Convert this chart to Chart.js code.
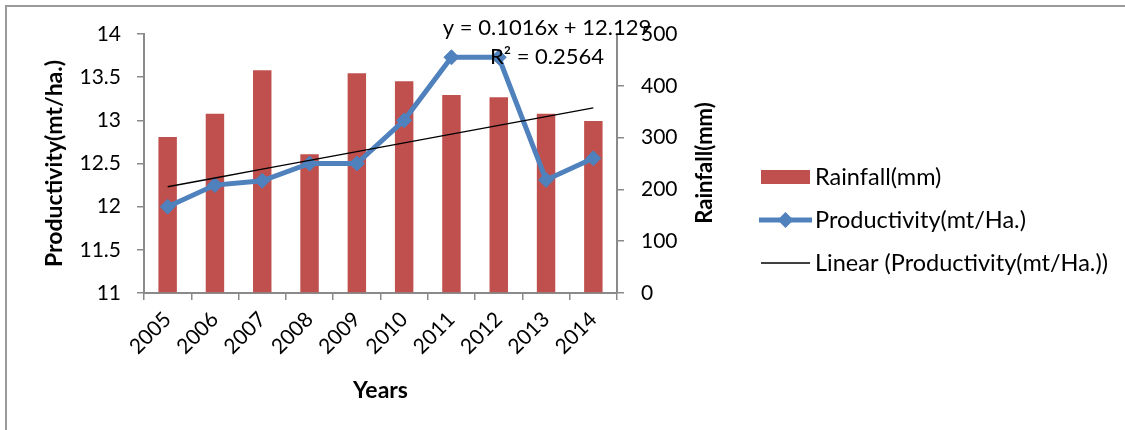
<!DOCTYPE html>
<html>
<head>
<meta charset="utf-8">
<title>Rainfall and productivity</title>
<script src="https://cdn.jsdelivr.net/npm/chart.js@4.4.1/dist/chart.umd.min.js"></script>
<style>
  html, body { margin: 0; padding: 0; background: #fff; }
  #wrap { position: relative; width: 1125px; height: 430px; overflow: hidden; }
  #frame { position: absolute; left: 5px; top: 5px; width: 1300px; height: 600px;
           border: 2px solid #9a9a9a; box-sizing: border-box; }
  #chart { position: absolute; left: 0; top: 0; }
</style>
</head>
<body>
<div id="wrap">
  <div id="frame"></div>
  <canvas id="chart" width="1125" height="430"></canvas>
</div>
<script>
const years = ['2005', '2006', '2007', '2008', '2009', '2010', '2011', '2012', '2013', '2014'];
const rainfall = [301, 346, 430, 268, 424, 409, 382, 378, 346, 332];
const productivity = [12.0, 12.25, 12.3, 12.5, 12.5, 13.0, 13.73, 13.73, 12.31, 12.56];

// linear fit of productivity against year index (1..10)
const trendSlope = 0.1016;
const trendIntercept = 12.129;
const rSquared = 0.2564;
const trend = years.map((y, i) => trendSlope * (i + 1) + trendIntercept);

const FONT = 'Lato, "Open Sans", sans-serif';
const AXIS = '#8a8a8a';
const RED = '#C0504D';
const BLUE = '#4F81BD';

const extras = {
  id: 'extras',
  afterDraw(chart) {
    const ctx = chart.ctx;
    ctx.save();
    ctx.fillStyle = '#000';

    // trendline equation
    ctx.font = '22px ' + FONT;
    ctx.textAlign = 'center';
    ctx.textBaseline = 'middle';
    ctx.fillText('y = ' + trendSlope + 'x + ' + trendIntercept, 547, 28);
    ctx.fillText('R² = ' + rSquared, 547, 57);

    // right axis title, reads bottom to top
    ctx.save();
    ctx.translate(705, 163);
    ctx.rotate(-Math.PI / 2);
    ctx.font = 'bold 22px ' + FONT;
    ctx.fillText('Rainfall(mm)', 0, 0);
    ctx.restore();

    // legend
    const lx = 761, tx = 815;
    const rows = [177, 220, 263];
    ctx.fillStyle = RED;
    ctx.fillRect(lx, rows[0] - 7, 49, 14);

    ctx.strokeStyle = BLUE;
    ctx.lineWidth = 5;
    ctx.beginPath();
    ctx.moveTo(lx - 2, rows[1]);
    ctx.lineTo(lx + 51, rows[1]);
    ctx.stroke();
    ctx.fillStyle = BLUE;
    ctx.beginPath();
    ctx.moveTo(lx + 24.5, rows[1] - 8);
    ctx.lineTo(lx + 32.5, rows[1]);
    ctx.lineTo(lx + 24.5, rows[1] + 8);
    ctx.lineTo(lx + 16.5, rows[1]);
    ctx.closePath();
    ctx.fill();

    ctx.strokeStyle = '#000';
    ctx.lineWidth = 1.3;
    ctx.beginPath();
    ctx.moveTo(lx, rows[2]);
    ctx.lineTo(lx + 49, rows[2]);
    ctx.stroke();

    ctx.fillStyle = '#000';
    ctx.font = '23.5px ' + FONT;
    ctx.textAlign = 'left';
    const names = chart.data.datasets.slice().reverse().map(d => d.label);
    names.forEach((n, i) => ctx.fillText(n, tx, rows[i]));
    ctx.restore();
  }
};

const tickFont = { family: FONT, size: 21 };
const titleFont = { family: FONT, size: 23, weight: 'bold' };

new Chart(document.getElementById('chart'), {
  type: 'bar',
  data: {
    labels: years,
    datasets: [{
      type: 'line',
      label: 'Linear (Productivity(mt/Ha.))',
      data: trend,
      yAxisID: 'y',
      borderColor: '#000',
      borderWidth: 1.3,
      pointRadius: 0,
      order: 0
    }, {
      type: 'line',
      label: 'Productivity(mt/Ha.)',
      data: productivity,
      yAxisID: 'y',
      borderColor: BLUE,
      backgroundColor: BLUE,
      borderWidth: 5,
      pointStyle: 'rectRot',
      pointRadius: 7.5,
      pointBorderWidth: 1,
      order: 1
    }, {
      type: 'bar',
      label: 'Rainfall(mm)',
      data: rainfall,
      yAxisID: 'y1',
      backgroundColor: RED,
      categoryPercentage: 0.39,
      barPercentage: 1,
      order: 2
    }]
  },
  options: {
    responsive: false,
    animation: false,
    layout: { padding: { top: 34, left: 0, right: 0, bottom: 0 } },
    plugins: { legend: { display: false }, tooltip: { enabled: false } },
    scales: {
      x: {
        afterFit: s => { s.height = 137; },
        grid: { drawOnChartArea: false, tickLength: 7, color: AXIS, lineWidth: 1.5 },
        border: { color: AXIS, width: 2 },
        ticks: { color: '#000', maxRotation: 45, minRotation: 45, padding: 7, font: tickFont },
        title: { display: true, text: 'Years', color: '#000', padding: { bottom: 26 }, font: titleFont }
      },
      y: {
        position: 'left',
        min: 11,
        max: 14,
        afterFit: s => { s.width = 144; },
        grid: { drawOnChartArea: false, tickLength: 7, color: AXIS, lineWidth: 1.5 },
        border: { color: AXIS, width: 2 },
        ticks: { stepSize: 0.5, color: '#000', padding: 16, font: tickFont, callback: v => String(v) },
        title: { display: true, text: 'Productivity(mt/ha.)', color: '#000', padding: { top: 41 }, font: titleFont }
      },
      y1: {
        position: 'right',
        min: 0,
        max: 500,
        afterFit: s => { s.width = 508; },
        grid: { drawOnChartArea: false, tickLength: 7, color: AXIS, lineWidth: 1.5 },
        border: { color: AXIS, width: 2 },
        ticks: { stepSize: 100, color: '#000', padding: 17, font: tickFont }
      }
    }
  },
  plugins: [extras]
});
</script>
</body>
</html>
